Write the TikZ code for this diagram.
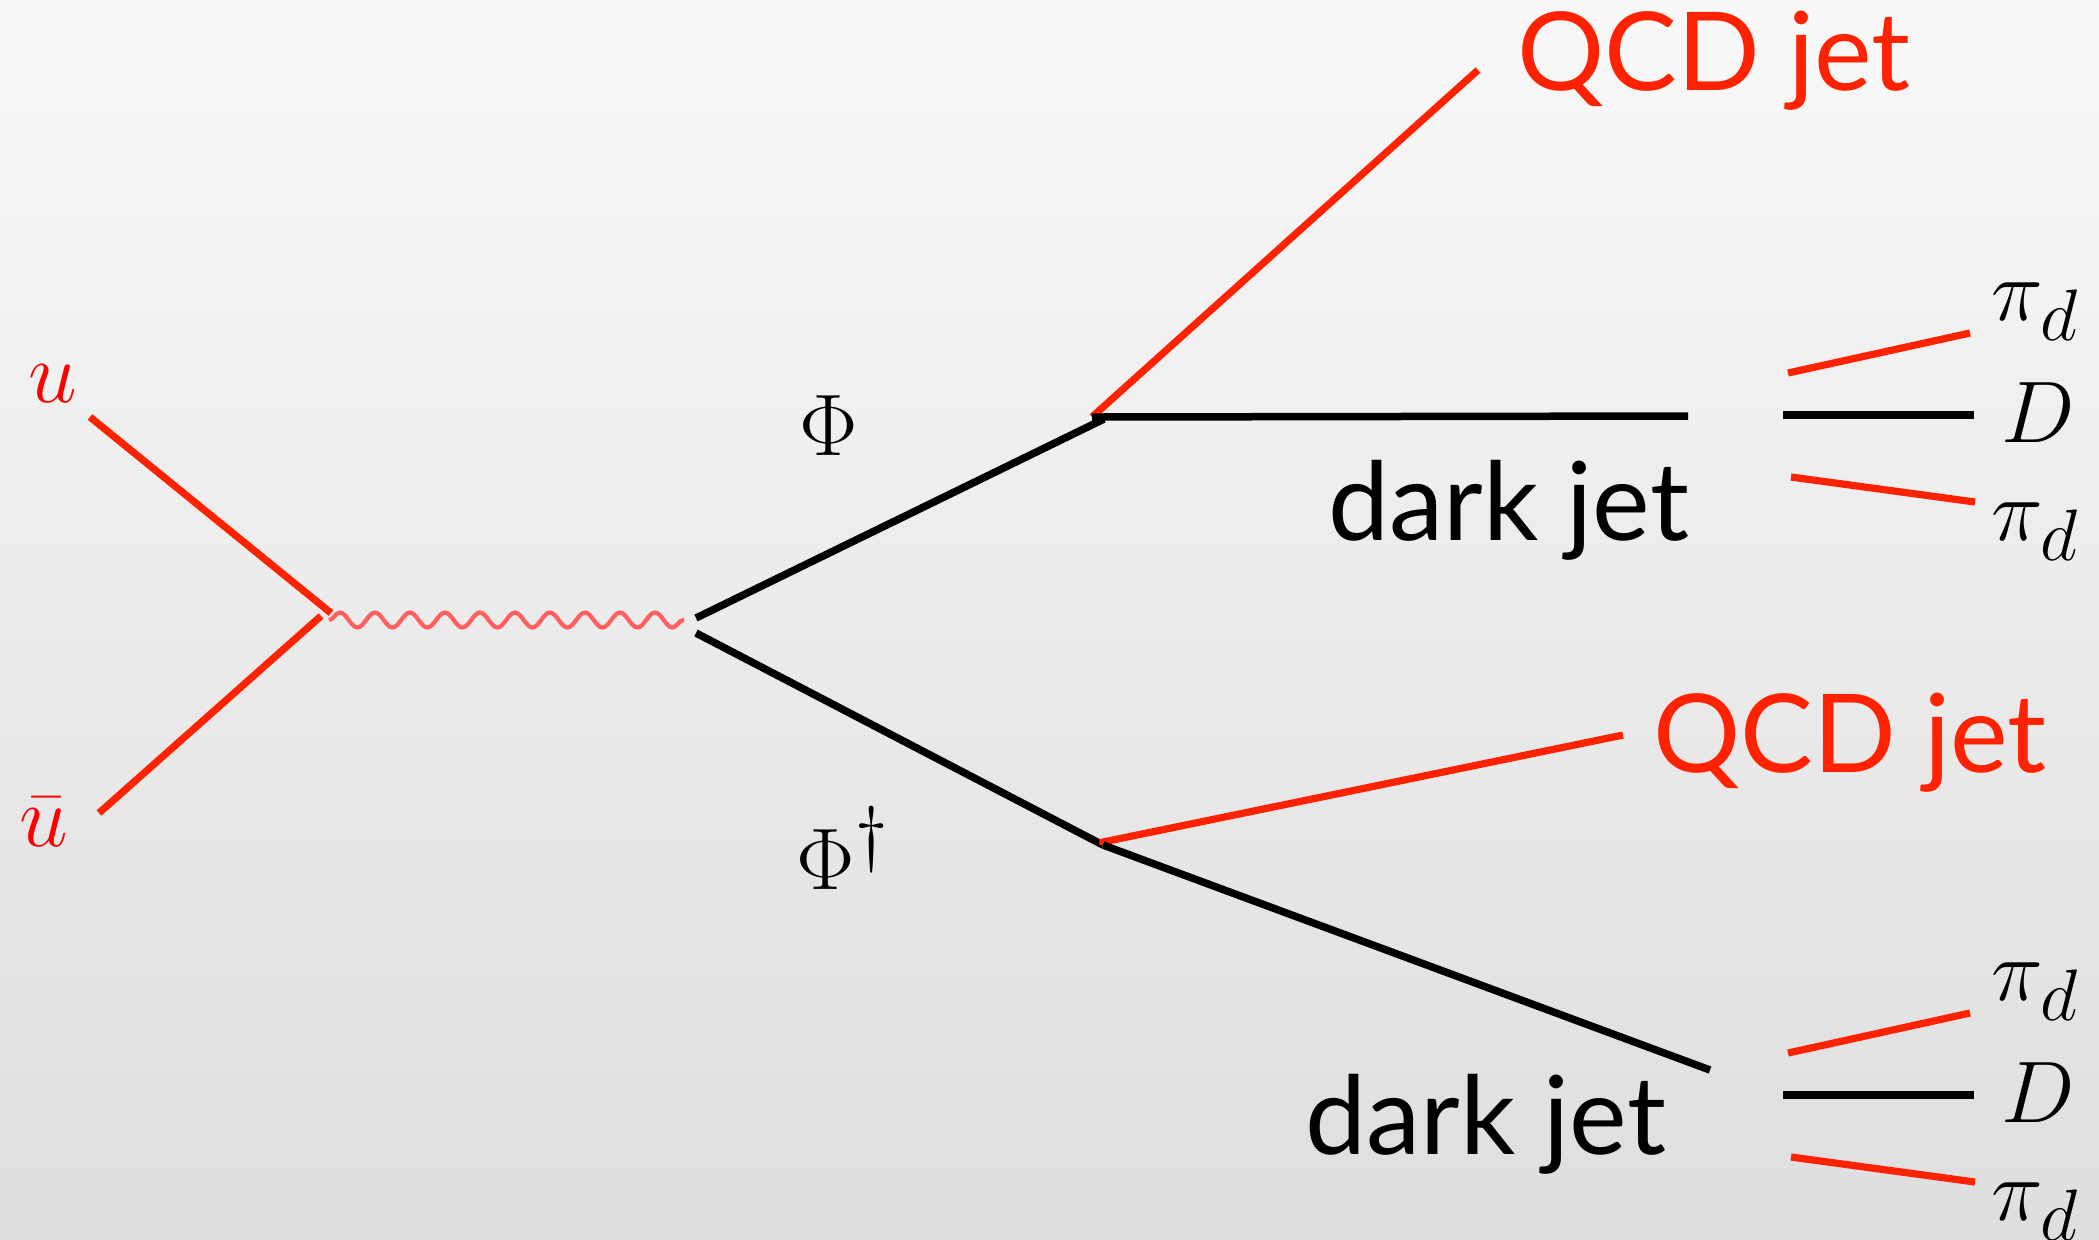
\documentclass[tikz,border=0pt]{standalone}
\usepackage{fontspec}
\setsansfont{Lato}
\usetikzlibrary{decorations.pathmorphing}

\definecolor{jetred}{RGB}{255,34,0}
\definecolor{quarkred}{RGB}{255,0,0}
\definecolor{wavered}{RGB}{255,95,95}
\definecolor{bgtop}{RGB}{248,248,248}
\definecolor{bgbottom}{RGB}{222,222,222}

\begin{document}
\begin{tikzpicture}[
  x=0.1mm, y=-0.1mm,
  quark/.style={draw=jetred,line width=0.72mm},
  scalar/.style={draw=black,line width=0.75mm},
  photon/.style={draw=wavered,line width=0.42mm,
    decorate,decoration={snake,segment length=3.5mm,amplitude=0.75mm}},
  mathlabel/.style={inner sep=0pt,font=\fontsize{29}{32}\selectfont},
  jetlabel/.style={inner sep=0pt,anchor=base west,font=\sffamily\fontsize{31}{34}\selectfont}
]
  \useasboundingbox (0,0) rectangle (2099,1239);
  \shade[top color=bgtop,bottom color=bgbottom] (0,0) rectangle (2099,1239);

  % vertices and free ends
  \coordinate (uin) at (90,417);
  \coordinate (uv) at (331,613);
  \coordinate (ubin) at (99,813);
  \coordinate (ubv) at (321,616);
  \coordinate (wl) at (329,620);
  \coordinate (wr) at (684,620);
  \coordinate (phia) at (696,618);
  \coordinate (phib) at (696,633);
  \coordinate (vtop) at (1104,419);
  \coordinate (vtopj) at (1092,417);
  \coordinate (vbot) at (1103,845);
  \coordinate (qcdtop) at (1478,70);
  \coordinate (djtop) at (1688,416);
  \coordinate (qcdbot) at (1623,735);
  \coordinate (djbot) at (1710,1070);

  % incoming quarks and mediator
  \draw[quark] (uin) -- (uv);
  \draw[quark] (ubin) -- (ubv);
  \draw[photon] (wl) -- (wr);

  % scalar pair
  \draw[scalar] (phia) -- (vtop);
  \draw[scalar] (phib) -- (vbot);
  \draw[quark] (vtopj) -- (qcdtop);
  \draw[scalar] (vtopj) -- (djtop);
  \draw[quark] (vbot) -- ++(0,-3) -- (qcdbot);
  \draw[scalar] (vbot) -- (djbot);

  % dark showers
  \coordinate (pa1) at (1788,373);  \coordinate (pa2) at (1970,333);
  \coordinate (da1) at (1783,415);  \coordinate (da2) at (1974,415);
  \coordinate (pb1) at (1791,477);  \coordinate (pb2) at (1975,502);
  \draw[quark] (pa1) -- (pa2);
  \draw[scalar] (da1) -- (da2);
  \draw[quark] (pb1) -- (pb2);

  \coordinate (pc1) at (1788,1053); \coordinate (pc2) at (1970,1013);
  \coordinate (dc1) at (1783,1095); \coordinate (dc2) at (1974,1095);
  \coordinate (pd1) at (1791,1157); \coordinate (pd2) at (1975,1182);
  \draw[quark] (pc1) -- (pc2);
  \draw[scalar] (dc1) -- (dc2);
  \draw[quark] (pd1) -- (pd2);

  % labels
  \node[mathlabel,text=quarkred] (ulab) at (53,384) {$u$};
  \node[mathlabel,text=quarkred] (ublab) at (44,822) {$\bar u$};
  \node[mathlabel,anchor=base west] (philab) at (799,455) {$\Phi$};
  \node[mathlabel,anchor=base west] (phidlab) at (796,889) {$\Phi^\dagger$};

  \node[jetlabel,text=jetred] (qcdtoplab) at (1517,90) {QCD jet};
  \node[jetlabel] (djtoplab) at (1328,540) {dark jet};
  \node[jetlabel,text=jetred] (qcdbotlab) at (1653,772) {QCD jet};
  \node[jetlabel] (djbotlab) at (1305,1154) {dark jet};

  \node[mathlabel,anchor=base west] (pialab) at (1991,320) {$\pi_d$};
  \node[mathlabel,anchor=base west] (dalab) at (2001,442) {$D$};
  \node[mathlabel,anchor=base west] (piblab) at (1991,540) {$\pi_d$};
  \node[mathlabel,anchor=base west] (piclab) at (1991,1000) {$\pi_d$};
  \node[mathlabel,anchor=base west] (dclab) at (2001,1122) {$D$};
  \node[mathlabel,anchor=base west] (pidlab) at (1991,1220) {$\pi_d$};
\end{tikzpicture}
\end{document}
